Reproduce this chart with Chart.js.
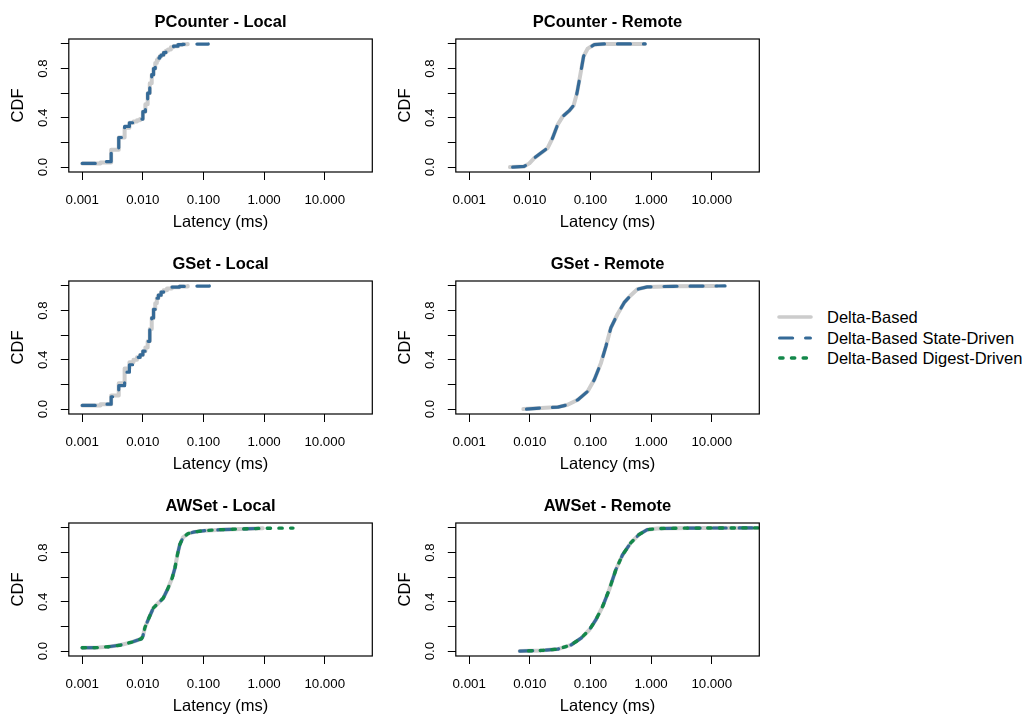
<!DOCTYPE html>
<html>
<head>
<meta charset="utf-8">
<script src="https://cdn.jsdelivr.net/npm/chart.js@4/dist/chart.umd.min.js"></script>
<style>
html,body{margin:0;padding:0;background:#fff;overflow:hidden;width:1028px;height:715px;}
canvas{position:absolute;}
.lg{position:absolute;left:776px;width:260px;height:20px;font-family:"Liberation Sans",Arial,Helvetica,sans-serif;font-size:16.5px;color:#000;}
.lg svg{position:absolute;left:0;top:0;}
.lg span{position:absolute;left:51px;top:0;line-height:20px;white-space:nowrap;}
</style>
</head>
<body>
<div class="lg" style="top:307.3px"><svg width="40" height="20"><line x1="3" y1="10" x2="35" y2="10" stroke="#cccccc" stroke-width="3.6" stroke-linecap="round"/></svg><span>Delta-Based</span></div>
<div class="lg" style="top:327.6px"><svg width="40" height="20"><line x1="3.6" y1="10" x2="34.4" y2="10" stroke="#356a97" stroke-width="3.2" stroke-linecap="round" stroke-dasharray="13 13"/></svg><span>Delta-Based State-Driven</span></div>
<div class="lg" style="top:347.8px"><svg width="40" height="20"><line x1="3.7" y1="10" x2="34.4" y2="10" stroke="#13884a" stroke-width="3.3" stroke-linecap="round" stroke-dasharray="3.4 8.3"/></svg><span>Delta-Based Digest-Driven</span></div>
<script>
// ---------- data ----------
const panelTitles = ['PCounter - Local','PCounter - Remote','GSet - Local','GSet - Remote','AWSet - Local','AWSet - Remote'];
const xTickValues = [0.001, 0.01, 0.1, 1, 10];
const yTickValues = [0, 0.2, 0.4, 0.6, 0.8, 1.0];
const yTickLabels = ['0.0', '', '0.4', '', '0.8', ''];

// PCounter - Local
const pcLocalLatDelta = [0.001,0.002,0.003,0.004,0.005,0.006,0.007,0.008,0.009,0.010,0.011,0.012,0.013,0.014,0.015,0.016,0.017,0.018,0.019,0.020,0.022,0.024,0.026,0.029,0.032,0.038,0.045,0.055];
const pcLocalCdfDelta = [0.03,0.038,0.14,0.24,0.32,0.36,0.37,0.38,0.39,0.45,0.51,0.60,0.68,0.75,0.80,0.845,0.87,0.885,0.90,0.91,0.93,0.945,0.955,0.972,0.982,0.994,0.997,0.999];
const pcLocalLatState = [0.001,0.002,0.003,0.004,0.005,0.006,0.007,0.008,0.009,0.010,0.011,0.012,0.013,0.014,0.015,0.016,0.017,0.018,0.019,0.020,0.022,0.024,0.026,0.029,0.032,0.038,0.045,0.055,0.12];
const pcLocalCdfState = [0.03,0.045,0.14,0.24,0.33,0.36,0.37,0.38,0.39,0.45,0.51,0.60,0.68,0.75,0.80,0.845,0.87,0.885,0.90,0.91,0.93,0.945,0.955,0.972,0.982,0.994,0.997,0.999,1.0];

// PCounter - Remote
const pcRemoteLatDelta = [0.0047,0.008,0.0098,0.0118,0.0152,0.0196,0.0237,0.0287,0.0347,0.0447,0.0527,0.0598,0.068,0.077,0.0898,0.1157,0.17,0.78];
const pcRemoteCdfDelta = [0.0,0.005,0.03,0.073,0.114,0.154,0.236,0.344,0.41,0.458,0.50,0.60,0.75,0.90,0.962,0.995,1.0,1.0];
const pcRemoteLatState = [0.0052,0.008,0.0098,0.0118,0.0152,0.0196,0.0237,0.0287,0.0347,0.0447,0.0527,0.0598,0.068,0.077,0.0898,0.1157,0.17,0.80];
const pcRemoteCdfState = [0.0,0.005,0.03,0.073,0.114,0.154,0.236,0.344,0.41,0.458,0.50,0.60,0.75,0.90,0.962,0.995,1.0,1.0];

// GSet - Local
const gsLocalLatDelta = [0.001,0.002,0.003,0.004,0.005,0.006,0.007,0.008,0.009,0.010,0.011,0.012,0.013,0.014,0.015,0.016,0.017,0.018,0.020,0.022,0.025,0.030,0.040,0.055];
const gsLocalCdfDelta = [0.03,0.04,0.11,0.21,0.33,0.38,0.40,0.42,0.44,0.47,0.50,0.55,0.65,0.74,0.81,0.86,0.90,0.925,0.95,0.965,0.98,0.99,0.996,0.999];
const gsLocalLatState = [0.001,0.002,0.003,0.004,0.005,0.006,0.007,0.008,0.009,0.010,0.011,0.012,0.013,0.014,0.015,0.016,0.017,0.018,0.020,0.022,0.025,0.030,0.040,0.055,0.125];
const gsLocalCdfState = [0.03,0.04,0.10,0.19,0.30,0.36,0.40,0.42,0.44,0.47,0.50,0.55,0.65,0.74,0.81,0.86,0.90,0.925,0.95,0.965,0.98,0.99,0.996,0.999,1.0];

// GSet - Remote
const gsRemoteLatDelta = [0.0078,0.0155,0.029,0.042,0.062,0.09,0.116,0.149,0.18,0.217,0.279,0.359,0.45,0.593,0.865,2.36,12.0];
const gsRemoteCdfDelta = [0.0,0.008,0.016,0.035,0.076,0.144,0.24,0.375,0.51,0.66,0.77,0.864,0.918,0.973,0.992,0.997,1.0];
const gsRemoteLatState = [0.0088,0.0155,0.029,0.042,0.062,0.09,0.116,0.149,0.18,0.217,0.279,0.359,0.45,0.593,0.865,2.36,16.6];
const gsRemoteCdfState = [0.0,0.008,0.016,0.035,0.076,0.144,0.24,0.375,0.51,0.66,0.77,0.864,0.918,0.973,0.992,0.997,1.0];

// AWSet - Local
const awLocalLatDelta = [0.001,0.0017,0.0027,0.0043,0.0066,0.0095,0.0100,0.0108,0.0126,0.0149,0.018,0.0217,0.026,0.0305,0.0339,0.0372,0.0407,0.0461,0.0557,0.0716,0.105,0.195,0.416,0.95];
const awLocalCdfDelta = [0.027,0.028,0.035,0.049,0.073,0.10,0.12,0.19,0.27,0.35,0.39,0.43,0.51,0.595,0.676,0.784,0.865,0.924,0.954,0.968,0.978,0.986,0.992,0.997];
const awLocalLatState = [0.001,0.0017,0.0027,0.0043,0.0066,0.0095,0.0100,0.0108,0.0126,0.0149,0.018,0.0217,0.026,0.0305,0.0339,0.0372,0.0407,0.0461,0.0557,0.0716,0.105,0.195,0.416,1.0];
const awLocalCdfState = [0.027,0.028,0.035,0.049,0.073,0.10,0.12,0.19,0.27,0.35,0.39,0.43,0.51,0.595,0.676,0.784,0.865,0.924,0.954,0.968,0.978,0.986,0.992,0.997];
const awLocalLatDigest = [0.001,0.0017,0.0027,0.0043,0.0066,0.0095,0.0100,0.0108,0.0126,0.0149,0.018,0.0217,0.026,0.0305,0.0339,0.0372,0.0407,0.0461,0.0557,0.0716,0.105,0.195,0.416,1.0,3.0];
const awLocalCdfDigest = [0.027,0.028,0.035,0.049,0.073,0.10,0.12,0.19,0.27,0.35,0.39,0.43,0.51,0.595,0.676,0.784,0.865,0.924,0.954,0.968,0.978,0.986,0.992,0.997,0.999];

// AWSet - Remote
const awRemoteLatDelta = [0.0068,0.0155,0.029,0.048,0.07,0.096,0.123,0.159,0.204,0.262,0.337,0.461,0.63,0.865,1.26,4.43,70];
const awRemoteCdfDelta = [0.0,0.005,0.016,0.05,0.105,0.173,0.255,0.363,0.50,0.66,0.78,0.878,0.946,0.986,0.995,0.999,1.0];
const awRemoteLatState = [0.0068,0.0155,0.029,0.048,0.07,0.096,0.123,0.159,0.204,0.262,0.337,0.461,0.63,0.865,1.26,4.43,90];
const awRemoteCdfState = [0.0,0.005,0.016,0.05,0.105,0.173,0.255,0.363,0.50,0.66,0.78,0.878,0.946,0.986,0.995,0.999,1.0];
const awRemoteLatDigest = [0.0095,0.0155,0.029,0.048,0.07,0.096,0.123,0.159,0.204,0.262,0.337,0.461,0.63,0.865,1.26,4.43,100];
const awRemoteCdfDigest = [0.002,0.005,0.016,0.05,0.105,0.173,0.255,0.363,0.50,0.66,0.78,0.878,0.946,0.986,0.995,0.999,1.0];

// ---------- styling / layout ----------
const FONT = '"Liberation Sans", Arial, Helvetica, sans-serif';
const CW = 385, CH = 240;
const COL_LEFT = [0, 387];
const ROW_TOP = [0, 242, 484];
const XMIN = Math.pow(10, -3.188), XMAX = Math.pow(10, 1.785);

const STYLES = {
  delta:  {color:'#cccccc', width:4.0, dash:[], order:3},
  state:  {color:'#356a97', width:3.2, dash:[13,13], order:2},
  digest: {color:'#13884a', width:3.3, dash:[3.4,8.3], order:1}
};

function series(lat, cdf, kind, stepped) {
  const s = STYLES[kind];
  return {
    data: lat.map((x, i) => ({x: x, y: cdf[i]})),
    borderColor: s.color, borderWidth: s.width, borderDash: s.dash,
    borderCapStyle: 'round', borderJoinStyle: 'round',
    pointRadius: 0, pointHoverRadius: 0, fill: false, tension: 0,
    stepped: stepped ? 'before' : false, clip: 0, order: s.order
  };
}

const boxPlugin = {
  id: 'box',
  afterDraw(chart) {
    const {ctx, chartArea: a} = chart;
    ctx.save();
    ctx.strokeStyle = '#000';
    ctx.lineWidth = 1.2;
    ctx.strokeRect(a.left, a.top, a.right - a.left, a.bottom - a.top);
    ctx.restore();
  }
};

function makePanel(col, row, title, datasets) {
  const cv = document.createElement('canvas');
  cv.width = CW; cv.height = CH;
  cv.style.left = COL_LEFT[col] + 'px';
  cv.style.top = ROW_TOP[row] + 'px';
  cv.style.width = CW + 'px'; cv.style.height = CH + 'px';
  document.body.appendChild(cv);
  const gridOpts = {display: true, drawOnChartArea: false, drawTicks: true, tickLength: 8, color: '#000', lineWidth: 1};
  new Chart(cv, {
    type: 'line',
    data: {datasets: datasets},
    options: {
      responsive: false, animation: false, devicePixelRatio: 1,
      events: [],
      layout: {padding: {left: 0, right: CW - 372.3, top: 0, bottom: 0}},
      plugins: {
        legend: {display: false},
        tooltip: {enabled: false},
        title: {display: true, fullSize: false, text: title, color: '#000',
                font: {family: FONT, size: 16.5, weight: 'bold', lineHeight: 1.2},
                padding: {top: 12.2, bottom: 7.0}}
      },
      scales: {
        x: {
          type: 'logarithmic', position: 'bottom', min: XMIN, max: XMAX,
          afterBuildTicks: s => { s.ticks = xTickValues.map(v => ({value: v})); },
          afterFit: s => { s.height = 68; },
          ticks: {autoSkip: false, minRotation: 0, maxRotation: 0, padding: 12.5, color: '#000',
                  font: {family: FONT, size: 13.3, lineHeight: 1.2},
                  callback: v => Number(v).toFixed(3)},
          grid: gridOpts,
          border: {display: false},
          title: {display: true, text: 'Latency (ms)', color: '#000',
                  font: {family: FONT, size: 16.5, lineHeight: 1.2}, padding: {top: 0, bottom: 7.4}}
        },
        y: {
          type: 'linear', position: 'left', min: -0.04, max: 1.04,
          afterBuildTicks: s => { s.ticks = yTickValues.map(v => ({value: v})); },
          afterFit: s => { s.width = 68.8; },
          ticks: {autoSkip: false, minRotation: 90, maxRotation: 90, crossAlign: 'center', padding: 8.4, color: '#000',
                  font: {family: FONT, size: 13.3, lineHeight: 1.2},
                  callback: (v, i) => yTickLabels[i]},
          grid: gridOpts,
          border: {display: false},
          title: {display: true, text: 'CDF', color: '#000',
                  font: {family: FONT, size: 16.5, lineHeight: 1.2}, padding: {top: 8.1, bottom: 0}}
        }
      }
    },
    plugins: [boxPlugin]
  });
}

makePanel(0, 0, panelTitles[0], [
  series(pcLocalLatDelta, pcLocalCdfDelta, 'delta', true),
  series(pcLocalLatState, pcLocalCdfState, 'state', true)
]);
makePanel(1, 0, panelTitles[1], [
  series(pcRemoteLatDelta, pcRemoteCdfDelta, 'delta', false),
  series(pcRemoteLatState, pcRemoteCdfState, 'state', false)
]);
makePanel(0, 1, panelTitles[2], [
  series(gsLocalLatDelta, gsLocalCdfDelta, 'delta', true),
  series(gsLocalLatState, gsLocalCdfState, 'state', true)
]);
makePanel(1, 1, panelTitles[3], [
  series(gsRemoteLatDelta, gsRemoteCdfDelta, 'delta', false),
  series(gsRemoteLatState, gsRemoteCdfState, 'state', false)
]);
makePanel(0, 2, panelTitles[4], [
  series(awLocalLatDelta, awLocalCdfDelta, 'delta', false),
  series(awLocalLatState, awLocalCdfState, 'state', false),
  series(awLocalLatDigest, awLocalCdfDigest, 'digest', false)
]);
makePanel(1, 2, panelTitles[5], [
  series(awRemoteLatDelta, awRemoteCdfDelta, 'delta', false),
  series(awRemoteLatState, awRemoteCdfState, 'state', false),
  series(awRemoteLatDigest, awRemoteCdfDigest, 'digest', false)
]);
</script>
</body>
</html>
